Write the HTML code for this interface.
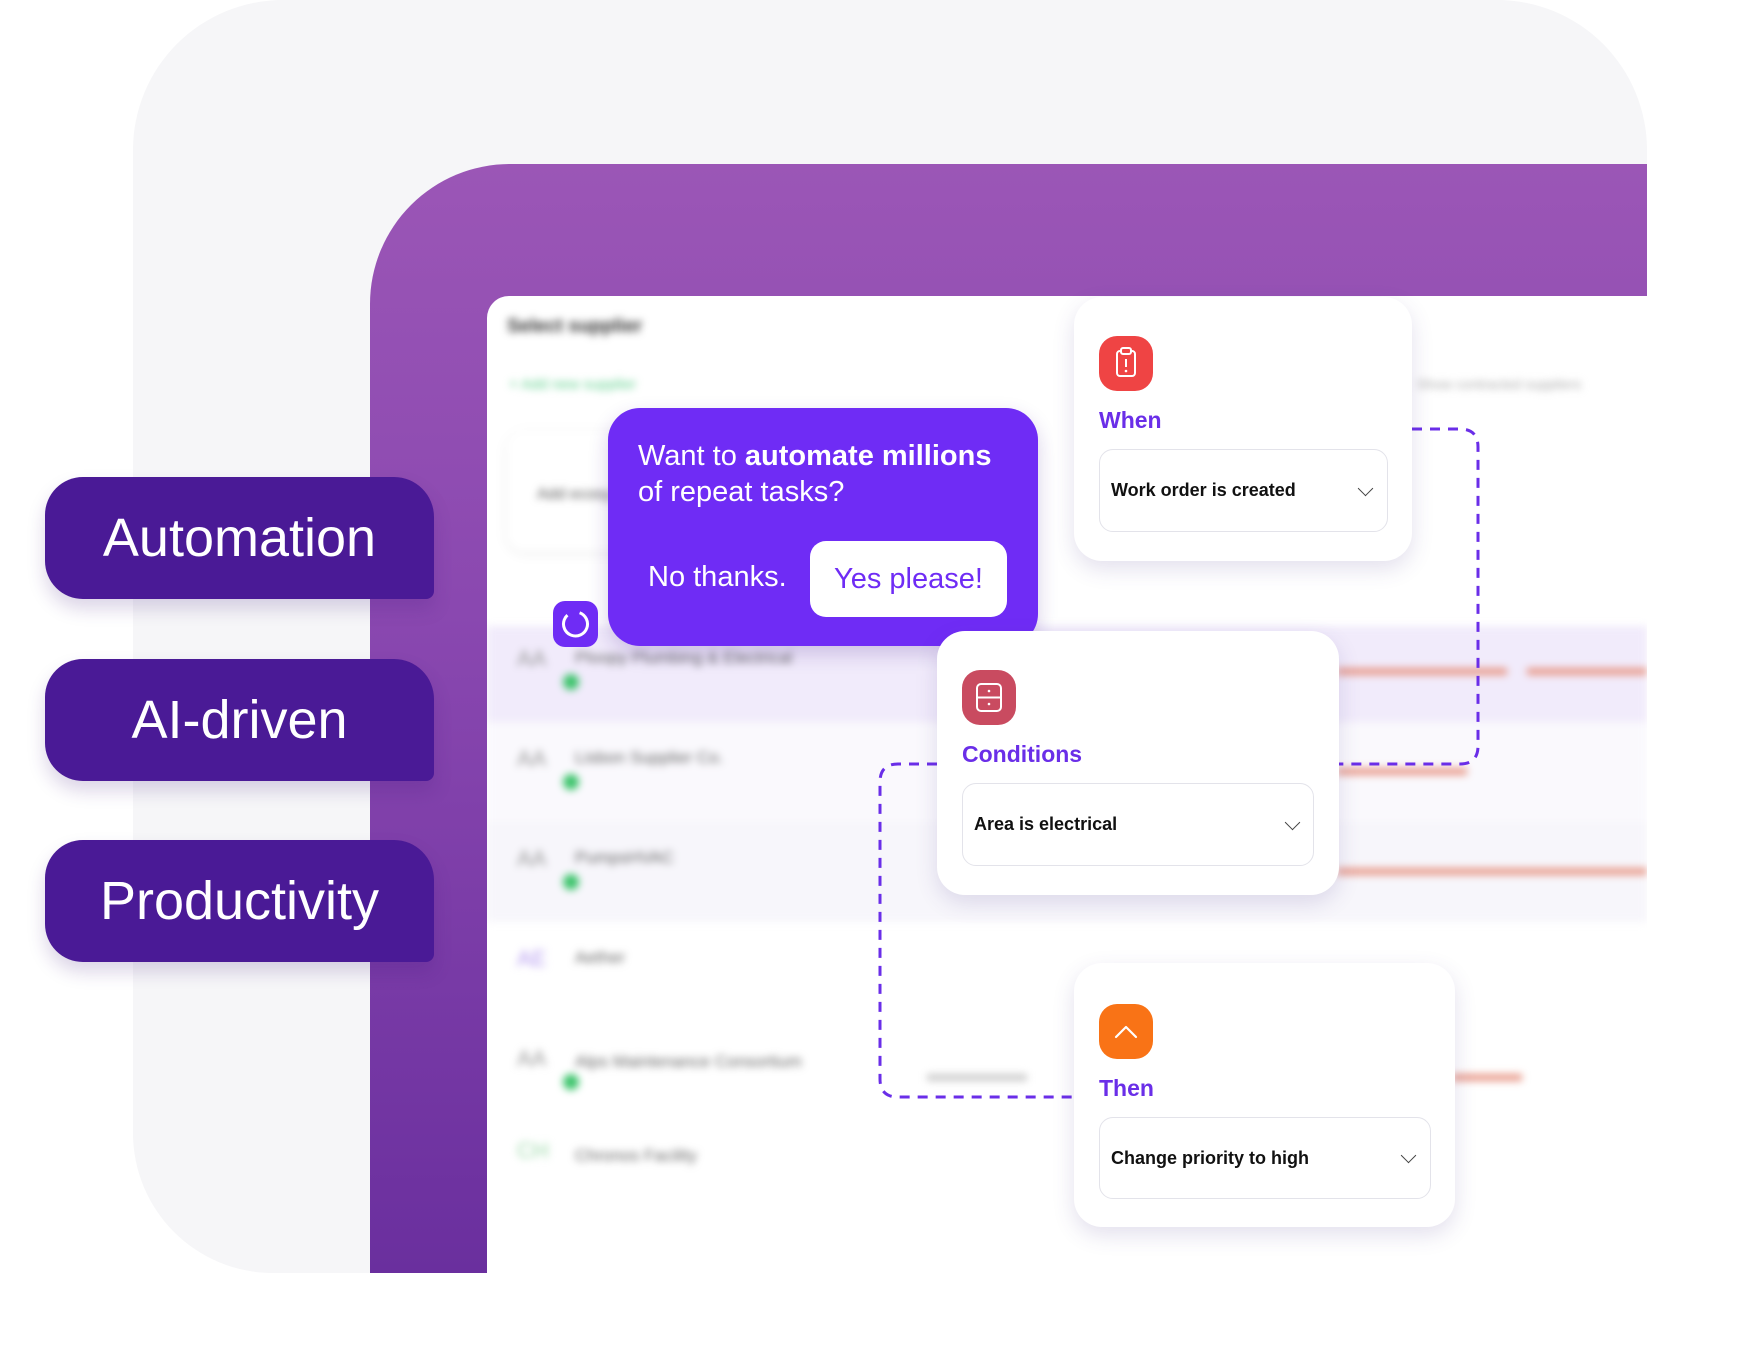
<!DOCTYPE html>
<html><head><meta charset="utf-8"><style>
*{margin:0;padding:0;box-sizing:border-box}
body{width:1760px;height:1372px;background:#fff;position:relative;overflow:hidden;font-family:"Liberation Sans",sans-serif}
.abs{position:absolute}
.bg{left:133px;top:0;width:1514px;height:1273px;background:#f6f6f8;border-radius:150px 150px 0 140px}
.panel{left:370px;top:164px;width:1277px;height:1109px;border-radius:140px 0 0 0;background:linear-gradient(180deg,#9b56b6 0%,#8a48b0 40%,#6a2f9e 100%)}
.screen{left:487px;top:296px;width:1160px;height:977px;background:#fff;border-radius:22px 0 0 0;overflow:hidden}
.blur{filter:blur(4px)}
.pill{left:45px;width:389px;height:122px;background:#4a1a96;border-radius:38px 40px 8px 38px;color:#fff;font-size:54px;text-align:center;line-height:122px;box-shadow:0 10px 18px rgba(60,20,120,.18)}
.card{background:#fff;border-radius:28px;box-shadow:0 8px 22px rgba(80,60,140,.16)}
.icon{width:54px;height:55px;border-radius:18px}
.lbl{color:#6a2ee8;font-size:23px;font-weight:bold}
.dd{border:1.5px solid #e3e3ea;border-radius:14px;background:#fff;font-size:18px;font-weight:bold;color:#111;padding-left:11px;display:flex;align-items:center}
.chev{position:absolute;width:11px;height:11px;border-right:1.8px solid #444;border-bottom:1.8px solid #444;transform:rotate(45deg)}
</style></head><body>
<div class="abs bg"></div>
<div class="abs panel"></div>
<div class="abs screen">
  <div class="blur">
    <div class="abs" style="left:20px;top:20px;font-size:19px;font-weight:bold;color:#333">Select supplier</div>
    <div class="abs" style="left:22px;top:80px;font-size:15px;color:#5ccf8a">+ Add new supplier</div>
    <div class="abs" style="left:930px;top:80px;font-size:14px;color:#aaa">Show contracted suppliers</div>
    <div class="abs" style="left:20px;top:135px;width:200px;height:120px;border-radius:18px;box-shadow:0 2px 10px rgba(0,0,0,.08)"></div>
    <div class="abs" style="left:50px;top:190px;font-size:16px;color:#555">Add ecosy</div>
    <div class="abs" style="left:0;top:330px;width:1160px;height:96px;background:#f1ebfb"></div>
    <div class="abs" style="left:0;top:426px;width:1160px;height:100px;background:#faf9fd"></div>
    <div class="abs" style="left:0;top:526px;width:1160px;height:100px;background:#f7f6fb"></div>
    <div class="abs" style="left:30px;top:350px;font-size:22px;color:#999">AA</div>
    <div class="abs" style="left:30px;top:450px;font-size:22px;color:#999">AA</div>
    <div class="abs" style="left:30px;top:550px;font-size:22px;color:#999">AA</div>
    <div class="abs" style="left:30px;top:650px;font-size:22px;color:#b59bf0">AE</div>
    <div class="abs" style="left:30px;top:750px;font-size:22px;color:#999">AA</div>
    <div class="abs" style="left:30px;top:842px;font-size:22px;color:#9bd8a8">CH</div>
    <div class="abs" style="left:76px;top:378px;width:16px;height:16px;border-radius:50%;background:#3cc46b"></div>
    <div class="abs" style="left:76px;top:478px;width:16px;height:16px;border-radius:50%;background:#3cc46b"></div>
    <div class="abs" style="left:76px;top:578px;width:16px;height:16px;border-radius:50%;background:#3cc46b"></div>
    <div class="abs" style="left:76px;top:778px;width:16px;height:16px;border-radius:50%;background:#3cc46b"></div>
    <div class="abs" style="left:88px;top:352px;font-size:17px;color:#666">Ploopy Plumbing &amp; Electrical</div>
    <div class="abs" style="left:88px;top:452px;font-size:17px;color:#666">Lisbon Supplier Co.</div>
    <div class="abs" style="left:88px;top:552px;font-size:17px;color:#666">PumpsHVAC</div>
    <div class="abs" style="left:88px;top:652px;font-size:17px;color:#666">Aether</div>
    <div class="abs" style="left:88px;top:756px;font-size:17px;color:#666">Alps Maintenance Consortium</div>
    <div class="abs" style="left:88px;top:850px;font-size:17px;color:#666">Chronos Facility</div>
    <div class="abs" style="left:850px;top:372px;width:170px;height:7px;background:#e89a8a"></div>
    <div class="abs" style="left:1040px;top:372px;width:120px;height:7px;background:#e89a8a"></div>
    <div class="abs" style="left:850px;top:472px;width:130px;height:7px;background:#e89a8a"></div>
    <div class="abs" style="left:850px;top:572px;width:310px;height:7px;background:#e89a8a"></div>
    <div class="abs" style="left:965px;top:778px;width:70px;height:7px;background:#e89a8a"></div>
    <div class="abs" style="left:440px;top:778px;width:100px;height:7px;background:#ccc"></div>
  </div>
</div>

<div class="abs pill" style="top:477px">Automation</div>
<div class="abs pill" style="top:659px">AI-driven</div>
<div class="abs pill" style="top:840px">Productivity</div>

<!-- connectors -->
<svg class="abs" style="left:0;top:0" width="1760" height="1372">
  <path d="M1412 429 H1460 Q1478 429 1478 447 V746 Q1478 764 1460 764 H1339" fill="none" stroke="#6a2ee8" stroke-width="3" stroke-dasharray="10 8"/>
  <path d="M937 764 H898 Q880 764 880 782 V1079 Q880 1097 898 1097 H1074" fill="none" stroke="#6a2ee8" stroke-width="3" stroke-dasharray="10 8"/>
</svg>

<!-- popup -->
<div class="abs" style="left:608px;top:408px;width:430px;height:238px;background:#6f2cf5;border-radius:32px;box-shadow:0 8px 20px rgba(60,20,140,.2)"></div>
<div class="abs" style="left:638px;top:438px;color:#fff;font-size:29px;line-height:36px">Want to <b>automate millions</b><br>of repeat tasks?</div>
<div class="abs" style="left:648px;top:561px;color:#fff;font-size:29px">No thanks.</div>
<div class="abs" style="left:810px;top:541px;width:197px;height:76px;background:#fff;border-radius:16px;color:#6f2cf5;font-size:29px;text-align:center;line-height:76px">Yes please!</div>
<div class="abs" style="left:553px;top:601px;width:45px;height:46px;background:#6f2cf5;border-radius:12px"></div>
<svg class="abs" style="left:553px;top:601px" width="45" height="46"><circle cx="22.5" cy="23" r="12" fill="none" stroke="#fff" stroke-width="3" stroke-dasharray="62 14" transform="rotate(-70 22.5 23)"/></svg>

<!-- When -->
<div class="abs card" style="left:1074px;top:297px;width:338px;height:264px"></div>
<div class="abs icon" style="left:1099px;top:336px;background:#ef4444"></div>
<svg class="abs" style="left:1099px;top:336px" width="54" height="55"><rect x="18" y="15" width="18" height="25" rx="3" fill="none" stroke="#fff" stroke-width="2"/><rect x="22" y="12" width="10" height="6" rx="2" fill="#ef4444" stroke="#fff" stroke-width="2"/><line x1="27" y1="23" x2="27" y2="31" stroke="#fff" stroke-width="2"/><circle cx="27" cy="35" r="1.3" fill="#fff"/></svg>
<div class="abs lbl" style="left:1099px;top:407px">When</div>
<div class="abs dd" style="left:1099px;top:449px;width:289px;height:83px">Work order is created</div>
<div class="abs chev" style="left:1360px;top:483px"></div>

<!-- Conditions -->
<div class="abs card" style="left:937px;top:631px;width:402px;height:264px"></div>
<div class="abs icon" style="left:962px;top:670px;background:#c94b60"></div>
<svg class="abs" style="left:962px;top:670px" width="54" height="55"><rect x="15" y="14" width="24" height="27" rx="4" fill="none" stroke="#fff" stroke-width="2"/><line x1="15" y1="27.5" x2="39" y2="27.5" stroke="#fff" stroke-width="2"/><circle cx="27" cy="21" r="1.3" fill="#fff"/><circle cx="27" cy="34" r="1.3" fill="#fff"/></svg>
<div class="abs lbl" style="left:962px;top:741px">Conditions</div>
<div class="abs dd" style="left:962px;top:783px;width:352px;height:83px">Area is electrical</div>
<div class="abs chev" style="left:1287px;top:817px"></div>

<!-- Then -->
<div class="abs card" style="left:1074px;top:963px;width:381px;height:264px"></div>
<div class="abs icon" style="left:1099px;top:1004px;background:#f97316"></div>
<svg class="abs" style="left:1099px;top:1004px" width="54" height="55"><polyline points="17,33 27,23 37,33" fill="none" stroke="#fff" stroke-width="2.2" stroke-linecap="round" stroke-linejoin="round"/></svg>
<div class="abs lbl" style="left:1099px;top:1075px">Then</div>
<div class="abs dd" style="left:1099px;top:1117px;width:332px;height:82px">Change priority to high</div>
<div class="abs chev" style="left:1403px;top:1150px"></div>
</body></html>
